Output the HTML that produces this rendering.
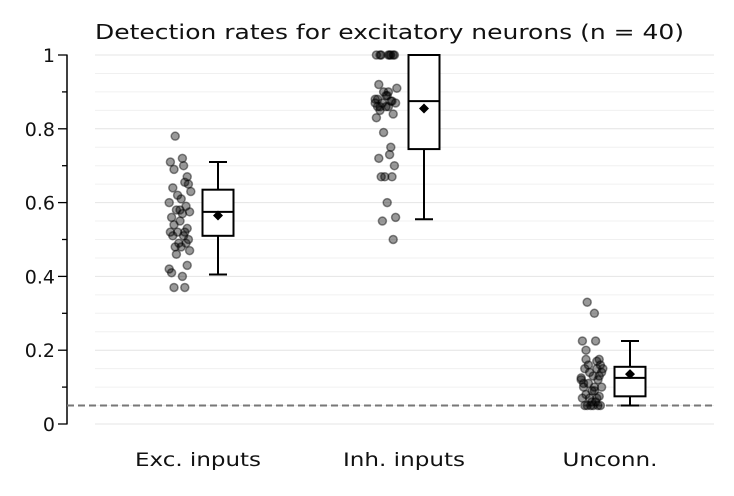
<!DOCTYPE html>
<html><head><meta charset="utf-8"><style>
body{margin:0;background:#fff;}
svg text{font-family:"DejaVu Sans","Liberation Sans",sans-serif;}
</style></head><body>
<svg id="chart" width="734" height="491">
<rect width="734" height="491" fill="#fff"/>
<text x="95" y="39" font-size="20" textLength="589" lengthAdjust="spacingAndGlyphs" fill="#111">Detection rates for excitatory neurons (n = 40)</text>
<g id="grid"></g>
<g id="axis"></g>
<g id="marks"></g>
</svg>
<script>
const categories = ["Exc. inputs","Inh. inputs","Unconn."];
const categoryWidths = [126,122,95];
const excValues = [0.78,0.72,0.71,0.70,0.69,0.67,0.655,0.65,0.64,0.63,0.62,0.61,0.60,0.59,0.58,0.575,0.57,0.56,0.55,0.54,0.53,0.52,0.52,0.52,0.51,0.51,0.50,0.49,0.49,0.48,0.48,0.47,0.46,0.43,0.42,0.41,0.40,0.37,0.37,0.58];
const inhValues = [1,1,1,1,1,1,1,1,0.92,0.91,0.90,0.89,0.88,0.875,0.87,0.87,0.86,0.86,0.86,0.85,0.84,0.83,0.79,0.75,0.73,0.72,0.70,0.67,0.67,0.67,0.60,0.56,0.55,0.50,0.87,0.88,0.90,0.86,0.875,0.89];
const unconnValues = [0.33,0.30,0.225,0.225,0.20,0.175,0.17,0.16,0.15,0.15,0.14,0.13,0.125,0.12,0.11,0.10,0.10,0.10,0.09,0.08,0.075,0.07,0.07,0.07,0.06,0.05,0.05,0.05,0.05,0.05,0.05,0.14,0.16,0.13,0.12,0.11,0.09,0.175,0.15,0.06];
const jitter = [-0.4,0.2,-0.8,0.3,-0.5,0.6,0.4,0.7,-0.6,0.9,-0.2,0.1,-0.9,0.5,-0.3,0.8,0.2,-0.7,0.0,-0.5,0.6,-0.8,-0.2,0.4,0.3,-0.6,0.7,-0.1,0.5,-0.4,0.1,0.8,-0.3,0.6,-0.9,-0.7,0.2,-0.5,0.4,0.0];
const boxLow = [0.405,0.555,0.05];
const boxQ1 = [0.51,0.745,0.075];
const boxMed = [0.575,0.875,0.125];
const boxQ3 = [0.635,1.0,0.155];
const boxHigh = [0.71,1.0,0.225];
const boxMean = [0.565,0.855,0.135];
const yTicks = [0,0.2,0.4,0.6,0.8,1];
const yTickLabels = ["0","0.2","0.4","0.6","0.8","1"];
const chanceLevel = 0.05;

const NS="http://www.w3.org/2000/svg";
const y = v => 424 - 369*v;
const xc = i => 198 + 206*i;
function mk(tag, attrs, parent){const e=document.createElementNS(NS,tag);for(const k in attrs)e.setAttribute(k,attrs[k]);parent.appendChild(e);return e;}
const grid=document.getElementById('grid'), axis=document.getElementById('axis'), marks=document.getElementById('marks');
for(let k=0;k<=20;k++){const v=k*0.05;
 const l=mk('line',{x1:95,x2:714,y1:y(v),y2:y(v),stroke:(k%4===0)?'#e4e4e4':'#f0f0f0','stroke-width':1},grid);
 
 }
const al=mk('line',{x1:67,x2:67,y1:y(0)+0.5,y2:y(1)-0.5,stroke:'#000','stroke-width':1.5},axis);


for(let k=0;k<=10;k++){const major=k%2===0;
 const t=mk('line',{x1:major?58:62,x2:67,y1:y(k/10),y2:y(k/10),stroke:'#000','stroke-width':1.3},axis);
 
 }
yTicks.forEach((v,i)=>{const t=mk('text',{x:55,y:y(v)+7,'text-anchor':'end','font-size':19,fill:'#111'},axis);t.textContent=yTickLabels[i];
 
 });
categories.forEach((c,i)=>{const t=mk('text',{x:xc(i),y:466,'text-anchor':'middle','font-size':19,fill:'#111',textLength:categoryWidths[i],lengthAdjust:'spacingAndGlyphs'},axis);t.textContent=c;
 
 });
const ch=mk('line',{x1:67,x2:714,y1:y(chanceLevel),y2:y(chanceLevel),stroke:'#777','stroke-width':2,'stroke-dasharray':'7,4'},marks);


[excValues,inhValues,unconnValues].forEach((vals,i)=>{
 const cx=xc(i)-18;
 vals.forEach((v,j)=>{const d=mk('circle',{cx:cx+jitter[j]*12,cy:y(v),r:4,fill:'rgba(0,0,0,0.4)',stroke:'rgba(0,0,0,0.45)','stroke-width':1.5},marks);
  
  });
 const bx=xc(i)+20,w=31,g=mk('g',{stroke:'#000','stroke-width':2,fill:'none'},marks);
 
 
 mk('line',{x1:bx,x2:bx,y1:y(boxHigh[i]),y2:y(boxQ3[i])},g);
 mk('line',{x1:bx,x2:bx,y1:y(boxQ1[i]),y2:y(boxLow[i])},g);
 mk('line',{x1:bx-9,x2:bx+9,y1:y(boxHigh[i]),y2:y(boxHigh[i])},g);
 mk('line',{x1:bx-9,x2:bx+9,y1:y(boxLow[i]),y2:y(boxLow[i])},g);
 mk('rect',{x:bx-w/2,y:y(boxQ3[i]),width:w,height:y(boxQ1[i])-y(boxQ3[i]),fill:'#fff'},g);
 mk('line',{x1:bx-w/2,x2:bx+w/2,y1:y(boxMed[i]),y2:y(boxMed[i])},g);
 const m=y(boxMean[i]);
 mk('polygon',{points:`${bx},${m-5} ${bx+5},${m} ${bx},${m+5} ${bx-5},${m}`,fill:'#000',stroke:'none'},g);
});
</script>
</body></html>
